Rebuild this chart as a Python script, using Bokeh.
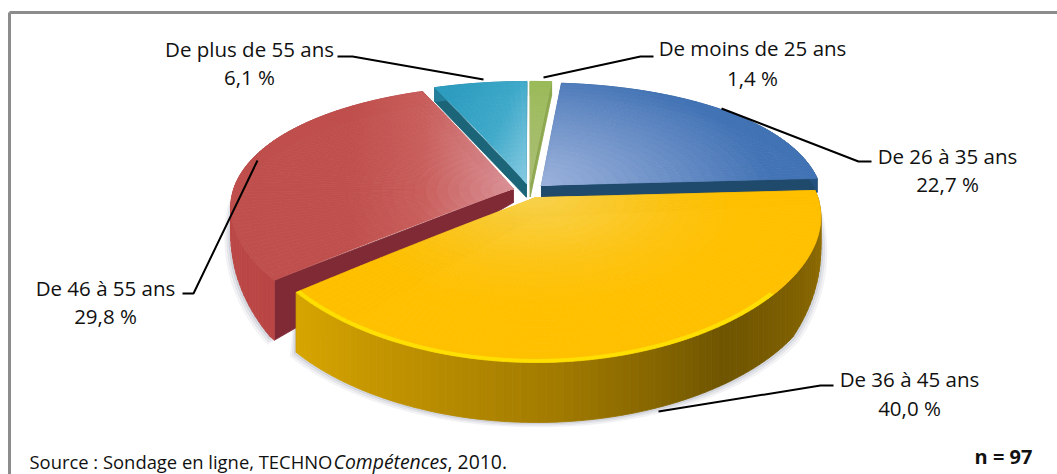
import numpy as np
from bokeh.core.properties import value
from bokeh.embed import file_html
from bokeh.models import ColumnDataSource
from bokeh.plotting import figure
from bokeh.resources import INLINE

# ---- data
categories = ["De moins de 25 ans", "De 26 à 35 ans", "De 36 à 45 ans", "De 46 à 55 ans", "De plus de 55 ans"]
shares = [1.4, 22.7, 40.0, 29.8, 6.1]
share_labels = ["1,4 %", "22,7 %", "40,0 %", "29,8 %", "6,1 %"]
n_label = "n = 97"

# ---- layout: data coordinates are the picture's pixels
CX, CY, RX, RY = 529.0, 190.0, 280.0, 126.2
KX, KY, EXPLODE = 0.14, 0.2134, 0.06
FONT = "Open Sans"
LABEL_POS = {  # centre x, line 1 y, line 2 y
    0: (752, 47, 77), 1: (947, 155, 183), 2: (909, 378, 407), 3: (105, 287, 315), 4: (249, 48, 76)}
LEADERS = {
    0: [(653, 56), (640, 56), (543, 77)],
    1: [(721, 108), (858, 161), (871, 161)],
    2: [(658, 411), (820, 385), (833, 385)],
    3: [(257, 160), (193, 293), (182, 293)],
    4: [(337, 56), (352, 56), (483, 79)]}


def hexrgb(c):
    return np.array([int(c[i:i + 2], 16) for i in (1, 3, 5)], float)


def ramp(stops, t):
    t = float(np.clip(t, 0, 1))
    xs = [s[0] for s in stops]
    rgb = [np.interp(t, xs, [hexrgb(s[1])[k] for s in stops]) for k in range(3)]
    return "#%02x%02x%02x" % tuple(int(round(v)) for v in rgb)


def project(x, y, dx, dy):
    x, y = x + dx, y + dy
    return CX + RX * x / (1 + KX * y), CY - RY * y / (1 + KY * y)


def depth(y):
    return 14 + 46 * np.clip(-y / 0.6, 0, 1) ** 0.9


def top_color(i, sx, sy, r, th):
    if i == 0:
        return ramp([(0, "#a9bd72"), (1, "#9bbb59")], r)
    if i == 1:
        return ramp([(0, "#9cb2db"), (0.55, "#6a8fc6"), (1, "#4273b5")], r * 0.8 + (sx - 540) / 700)
    if i == 2:
        if r > 0.985 and th > 130:
            return "#ffdf00"
        return ramp([(0, "#f8d24e"), (0.45, "#fcc414"), (0.7, "#ffc000"), (1, "#ffc000")], r)
    if i == 3:
        return ramp([(0, "#bf4f4c"), (0.45, "#c85e5b"), (1, "#da9297")], (sx - 350) / 160)
    return ramp([(0, "#2e9dc0"), (0.5, "#3fa9c9"), (1, "#8ecee4")], (sx - 455) / 75 * 0.6 + (sy - 85) / 100 * 0.4)


SIDE_STOPS = {
    0: [(0, "#8aa84c"), (1, "#8aa84c")],
    1: [(0, "#2f5f95"), (1, "#24527f")],
    2: [(0, "#a37c00"), (0.15, "#8a6800"), (0.4, "#6f5500"), (0.62, "#a17a00"), (0.85, "#c49500"), (1, "#d8a600")],
    3: [(0, "#b94644"), (1, "#c4504e")],
    4: [(0, "#247f9a"), (1, "#2a86a2")],
}
WALL_COLORS = {  # start wall, end wall
    0: ("#b8b89a", "#8da84e"), 1: ("#3a5f8f", "#1f4a6c"), 2: ("#a37c00", "#a37c00"),
    3: ("#7f2a35", "#7f2a35"), 4: ("#1c6478", "#1c6478")}

xs_all, ys_all, cs_all, alpha_all = [], [], [], []


def add(px, py, col, a=1.0):
    xs_all.append(list(map(float, px)))
    ys_all.append(list(map(float, py)))
    cs_all.append(col)
    alpha_all.append(a)


bounds = np.r_[0, np.cumsum(shares)] / np.sum(shares) * 360
spans = {i: (bounds[i], bounds[i + 1]) for i in range(len(shares))}
order = [4, 0, 1, 3, 2]  # painted from back to front


def offs(i):
    mid = np.radians(sum(spans[i]) / 2)
    return EXPLODE * np.sin(mid), EXPLODE * np.cos(mid)


# soft shadow below the two front slices
for i in (3, 2):
    a0, a1 = spans[i]
    dx, dy = offs(i)
    t = np.radians(np.linspace(a0, a1, 80))
    for grow, al in ((6, .07), (4, .10), (2, .14)):
        X, Y = np.sin(t), np.cos(t)
        sx, sy = project(X, Y, dx, dy)
        h = depth(Y + dy)
        sgn = np.where(sx < CX, -1, 1)
        add(np.r_[sx, sx[::-1] + sgn[::-1] * grow], np.r_[sy, (sy + h)[::-1] + grow * .7], "#6f7692", al)

for i in order:
    a0, a1 = spans[i]
    dx, dy = offs(i)
    # radial walls
    for th, col in zip((a0, a1), WALL_COLORS[i]):
        X, Y = np.sin(np.radians(th)), np.cos(np.radians(th))
        ax, ay = project(0, 0, dx, dy)
        bx, by = project(X, Y, dx, dy)
        add([ax, bx, bx, ax], [ay, by, by + depth(Y + dy), ay + depth(dy)], col)
    # outer wall
    nth = max(3, int((a1 - a0) / 1.5))
    ths = np.linspace(a0, a1, nth + 1)
    for k in range(nth):
        t = np.radians(ths[k:k + 2])
        X, Y = np.sin(t), np.cos(t)
        sx, sy = project(X, Y, dx, dy)
        h = depth(Y + dy)
        add([sx[0], sx[1], sx[1], sx[0]], [sy[0], sy[1], sy[1] + h[1], sy[0] + h[0]],
            ramp(SIDE_STOPS[i], (k + .5) / nth))
    # top face
    rad = np.r_[np.linspace(0, .985, 26), 1.0]
    for k in range(nth):
        t = np.radians(ths[k:k + 2])
        for j in range(len(rad) - 1):
            r0, r1 = rad[j], rad[j + 1]
            X = np.array([r0 * np.sin(t[0]), r1 * np.sin(t[0]), r1 * np.sin(t[1]), r0 * np.sin(t[1])])
            Y = np.array([r0 * np.cos(t[0]), r1 * np.cos(t[0]), r1 * np.cos(t[1]), r0 * np.cos(t[1])])
            sx, sy = project(X, Y, dx, dy)
            add(sx, sy, top_color(i, sx.mean(), sy.mean(), (r0 + r1) / 2, ths[k] + .5), 1.0)

p = figure(width=1057, height=474, x_range=(0, 1057), y_range=(474, 0), output_backend="svg",
           toolbar_location=None, min_border=0, x_axis_type=None, y_axis_type=None,
           outline_line_color=None, background_fill_color="white", border_fill_color="white")
p.xgrid.visible = False
p.ygrid.visible = False

# frame: only top and left sides are in the picture
p.line([9, 9], [474, 12], line_color="#8c8c8c", line_width=3)
p.line([9, 1057], [12, 12], line_color="#8c8c8c", line_width=3)

src = ColumnDataSource(dict(xs=xs_all, ys=ys_all, c=cs_all, a=alpha_all))
p.patches("xs", "ys", source=src, fill_color="c", line_color="c", fill_alpha="a", line_alpha="a", line_width=0.8)

for i, pts in LEADERS.items():
    p.line([q[0] for q in pts], [q[1] for q in pts], line_color="black", line_width=2)
    cx, y1, y2 = LABEL_POS[i]
    for txt, y in ((categories[i], y1), (share_labels[i], y2)):
        p.text([cx], [y], text=[txt], text_font=value(FONT), text_font_size="20.5px", text_color="#111111",
               text_align="center", text_baseline="middle")

mid_y = 461
for txt, x, st, sz in (("Source : Sondage en ligne, TECHNO", 29, "normal", "18.4px"),
                       ("Compétences", 333, "italic", "19.4px"), (", 2010.", 447, "normal", "19.4px")):
    p.text([x], [mid_y], text=[txt], text_font=value(FONT), text_font_size=sz, text_color="#111111",
           text_font_style=st, text_baseline="middle")
p.text([1003], [456], text=[n_label], text_font=value(FONT), text_font_size="20px", text_color="#111111",
       text_font_style="bold", text_align="center", text_baseline="middle")

open("out.html", "w").write(file_html(p, INLINE))
